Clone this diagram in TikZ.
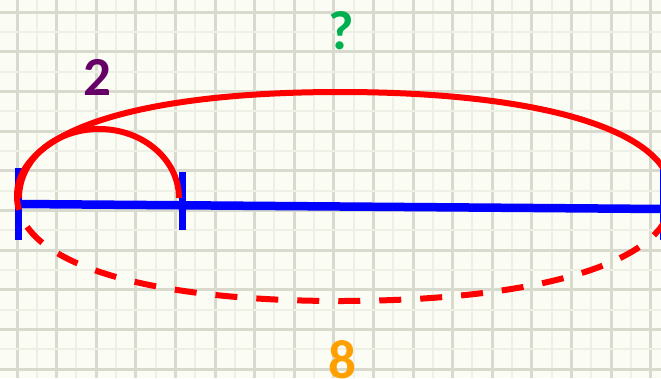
\documentclass[tikz,border=0pt]{standalone}
\usepackage{fontspec}
\setmainfont{Carlito}
\definecolor{paper}{RGB}{251,252,243}
\definecolor{gridmajor}{RGB}{216,218,205}
\definecolor{gridminor}{RGB}{238,240,229}
\definecolor{numpurple}{RGB}{102,0,102}
\definecolor{numgreen}{RGB}{0,176,80}
\definecolor{numorange}{RGB}{255,160,0}
\tikzset{
  numlabel/.style={font=\fontsize{55}{55}\selectfont\bfseries, inner sep=0pt},
  segline/.style={draw=blue, line width=8.5pt},
  tickline/.style={draw=blue, line width=7pt},
  loopline/.style={draw=red, line width=6pt},
}
\begin{document}
\begin{tikzpicture}[x=1pt,y=-1pt]
\useasboundingbox (0,0) rectangle (661,378);
\fill[paper] (0,0) rectangle (661,378);
\foreach \i in {0,...,17} {
  \draw[gridminor, line width=2pt] ({-2.8+39.6*\i},0) -- ({-2.8+39.6*\i},378);
  \draw[gridmajor, line width=3pt] ({-22.6+39.6*\i},0) -- ({-22.6+39.6*\i},378);
}
\foreach \j in {0,...,10} {
  \draw[gridminor, line width=2pt] (0,{-7.85+39.7*\j}) -- (661,{-7.85+39.7*\j});
  \draw[gridmajor, line width=3pt] (0,{12+39.7*\j}) -- (661,{12+39.7*\j});
}

\coordinate (A) at (18,204);
\coordinate (B) at (182,205.3);
\coordinate (C) at (663,209);
\coordinate (L) at (17,196);
\coordinate (T) at (340,92);
\coordinate (R) at (672,196);
\coordinate (Bt) at (340,301);

\draw[segline] (A) -- (C);
\draw[tickline] ([yshift=36pt]A) -- ([yshift=-36pt]A);
\draw[tickline] ([yshift=33pt]B) -- ([yshift=-25pt]B);
\draw[tickline] ([yshift=42pt]C) -- ([yshift=-31pt]C);

\draw[loopline] (L) .. controls (17,128) and (147,92) .. (T) .. controls (533,92) and (672,128) .. (R);
\draw[loopline, dash pattern=on 22pt off 19pt, dash phase=8pt] (L) .. controls (17,264) and (147,301) .. (Bt) .. controls (533,301) and (672,264) .. (R);
\draw[loopline] (19,198) arc[start angle=180, end angle=360, x radius=80, y radius=69];

\node[numlabel, text=numpurple] (two) at (97,77) {2};
\node[numlabel, text=numgreen] (ask) at (341,31) {?};
\node[numlabel, text=numorange] (eight) at (342,360) {8};
\end{tikzpicture}
\end{document}
